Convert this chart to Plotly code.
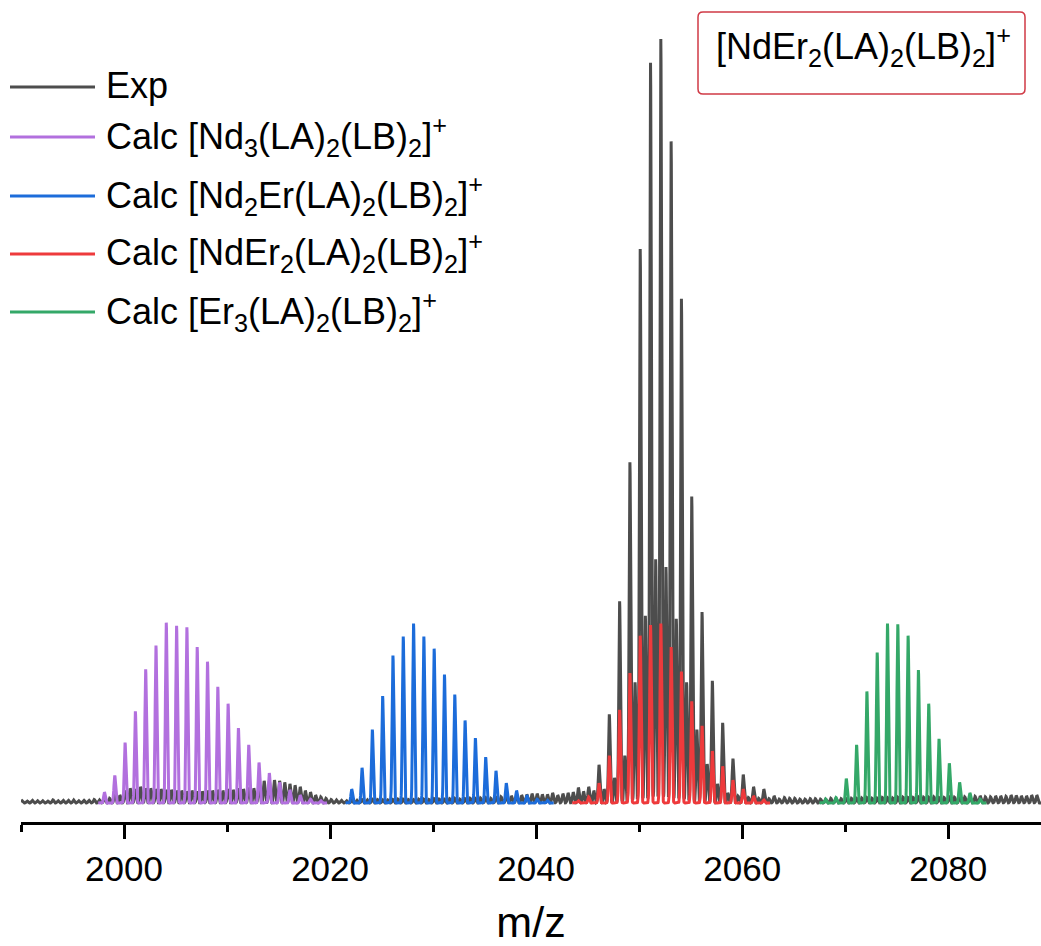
import numpy as np
import plotly.graph_objects as go

# ---- experimental spectrum: relative intensities (%) at nominal mass + 0.1 and + 0.6 ----
exp_nominal = list(range(1990, 2089))
exp_int_a = [
    0.3, 0.35, 0.3, 0.4, 0.35, 0.4, 0.35, 0.45, 0.7, 1.2,
    1.6, 1.8, 1.9, 1.8, 1.7, 1.6, 1.5, 1.5, 1.6, 1.7,
    1.8, 1.9, 2.0, 2.4, 2.9, 2.9, 2.5, 2.1, 1.4, 0.8,
    0.45, 0.35, 0.4, 0.45, 0.5, 0.4, 0.45, 0.5, 0.45, 0.5,
    0.55, 0.5, 0.6, 0.55, 0.6, 0.7, 0.75, 0.9, 1.0, 1.1,
    1.2, 1.1, 1.0, 1.3, 2.0, 2.1, 5.0, 11.6, 26.4, 44.6,
    72.5, 96.9, 100.0, 86.6, 66.0, 40.1, 25.0, 16.0, 10.5, 5.8,
    3.7, 2.1, 1.8, 0.9, 0.7, 0.6, 0.5, 0.55, 0.5, 0.6,
    0.55, 0.6, 0.7, 0.65, 0.7, 0.75, 0.7, 0.8, 0.75, 0.7,
    0.8, 0.75, 0.8, 0.9, 0.8, 0.9, 1.0, 0.9, 1.0,
]
exp_int_b = [
    0.25, 0.3, 0.25, 0.3, 0.35, 0.3, 0.35, 0.4, 0.6, 1.0,
    1.9, 2.1, 1.9, 1.8, 1.7, 1.6, 1.6, 1.5, 1.6, 1.6,
    1.7, 1.8, 1.9, 2.9, 3.0, 2.7, 2.3, 1.6, 1.0, 0.6,
    0.4, 0.3, 0.35, 0.4, 0.45, 0.4, 0.5, 0.45, 0.5, 0.45,
    0.5, 0.55, 0.5, 0.6, 0.65, 0.6, 0.8, 0.9, 1.0, 1.2,
    1.1, 1.3, 1.2, 1.4, 1.5, 1.6, 1.8, 3.3, 6.2, 15.8,
    24.5, 31.9, 30.9, 24.1, 15.8, 9.6, 5.1, 2.5, 1.3, 0.9,
    0.7, 0.6, 0.55, 0.5, 0.6, 0.5, 0.55, 0.5, 0.6, 0.55,
    0.6, 0.65, 0.6, 0.7, 0.65, 0.75, 0.7, 0.75, 0.8, 0.7,
    0.75, 0.8, 0.85, 0.8, 0.9, 0.85, 0.95, 0.9, 1.0,
]

# ---- calculated isotope patterns (relative intensity, %) ----
nd3_mz = [1998.1, 1999.1, 2000.1, 2001.1, 2002.1, 2003.1, 2004.1, 2005.1, 2006.1, 2007.1, 2008.1,
          2009.1, 2010.1, 2011.1, 2012.1, 2013.1, 2014.1, 2015.1, 2016.1, 2017.1, 2018.1, 2019.1]
nd3_int = [1.4, 3.6, 7.9, 12.0, 17.5, 20.6, 23.6, 23.2, 23.0, 20.4, 18.5,
           15.2, 13.0, 9.8, 7.6, 5.3, 3.9, 2.7, 1.7, 1.0, 0.5, 0.3]

nd2er_mz = [2022.1, 2023.1, 2024.1, 2025.1, 2026.1, 2027.1, 2028.1, 2029.1, 2030.1, 2031.1,
            2032.1, 2033.1, 2034.1, 2035.1, 2036.1, 2037.1, 2038.1, 2039.1, 2040.1, 2041.1]
nd2er_int = [1.8, 4.6, 9.6, 14.0, 19.3, 21.8, 23.5, 21.8, 20.2, 16.8,
             14.2, 10.8, 8.5, 6.0, 4.2, 2.6, 1.6, 1.0, 0.5, 0.35]

nder2_mz = [2044.1, 2045.1, 2046.1, 2047.1, 2048.1, 2049.1, 2050.1, 2051.1, 2052.1, 2053.1,
            2054.1, 2055.1, 2056.1, 2057.1, 2058.1, 2059.1, 2060.1, 2061.1, 2062.1]
nder2_int = [0.3, 0.8, 2.6, 6.2, 12.2, 17.0, 21.9, 23.3, 23.5, 20.4,
             17.2, 13.3, 10.1, 6.8, 4.8, 3.0, 1.8, 0.9, 0.4]

er3_mz = [2068.1, 2069.1, 2070.1, 2071.1, 2072.1, 2073.1, 2074.1, 2075.1, 2076.1, 2077.1,
          2078.1, 2079.1, 2080.1, 2081.1, 2082.1, 2083.1]
er3_int = [0.5, 0.7, 3.2, 7.6, 14.6, 19.7, 23.5, 23.4, 21.9, 17.4,
           13.0, 8.4, 5.2, 2.7, 1.3, 0.5]

COLORS = {
    "exp": "rgb(77,77,77)",
    "nd3": "rgb(178,112,222)",
    "nd2er": "rgb(28,108,218)",
    "nder2": "rgb(238,58,60)",
    "er3": "rgb(52,168,104)",
}
FONT = "Arial, 'Liberation Sans', sans-serif"
PEAK_SIGMA = 0.08  # Da, Gaussian line shape of each isotope peak


def profile(centres, heights, lo, hi, step=0.02):
    """Turn a stick spectrum into a continuous profile with Gaussian peaks."""
    x = np.arange(lo, hi + step / 2, step)
    c = np.asarray(centres, float)[:, None]
    h = np.asarray(heights, float)[:, None]
    y = (h * np.exp(-0.5 * ((x[None, :] - c) / PEAK_SIGMA) ** 2)).sum(axis=0)
    return x, y


exp_centres = [m + 0.1 for m in exp_nominal] + [m + 0.6 for m in exp_nominal]
exp_heights = exp_int_a + exp_int_b

fig = go.Figure()

x, y = profile(exp_centres, exp_heights, 1990.0, 2089.0)
fig.add_trace(go.Scatter(x=x, y=y, mode="lines", name="Exp",
                         line=dict(color=COLORS["exp"], width=3)))

for key, mz, inten in [("nd3", nd3_mz, nd3_int), ("nd2er", nd2er_mz, nd2er_int),
                       ("nder2", nder2_mz, nder2_int), ("er3", er3_mz, er3_int)]:
    x, y = profile(mz, inten, mz[0] - 0.6, mz[-1] + 0.6)
    fig.add_trace(go.Scatter(x=x, y=y, mode="lines", name=key,
                             line=dict(color=COLORS[key], width=3)))

# ---- page geometry (pixels) ----
W_PAGE, H_PAGE = 1041, 946
M_L, M_R, M_T, M_B = 21, 0, 20, 124
PW = W_PAGE - M_L - M_R
PH = H_PAGE - M_T - M_B


def px_x(px):
    return (px - M_L) / PW


def px_y(py):
    return 1 - (py - M_T) / PH


# ---- hand-drawn legend ----
legend_rows = [
    ("exp", "Exp", 87),
    ("nd3", "Calc [Nd<sub>3</sub>(LA)<sub>2</sub>(LB)<sub>2</sub>]<sup>+</sup>", 137),
    ("nd2er", "Calc [Nd<sub>2</sub>Er(LA)<sub>2</sub>(LB)<sub>2</sub>]<sup>+</sup>", 196),
    ("nder2", "Calc [NdEr<sub>2</sub>(LA)<sub>2</sub>(LB)<sub>2</sub>]<sup>+</sup>", 254),
    ("er3", "Calc [Er<sub>3</sub>(LA)<sub>2</sub>(LB)<sub>2</sub>]<sup>+</sup>", 312),
]
shapes = []
annotations = []
for key, label, row_y in legend_rows:
    shapes.append(dict(type="line", xref="paper", yref="paper",
                       x0=px_x(10), x1=px_x(95), y0=px_y(row_y), y1=px_y(row_y),
                       line=dict(color=COLORS[key], width=3)))
    annotations.append(dict(xref="paper", yref="paper", x=px_x(104), y=px_y(row_y - 1),
                            xanchor="left", yanchor="middle", showarrow=False,
                            text=label, font=dict(family=FONT, size=36, color="black")))

# ---- boxed species label (rounded rectangle) ----
bx0, bx1, by0, by1, rad = 698, 1025, 12, 94, 5
X = lambda v: px_x(v)
Y = lambda v: px_y(v)
box_path = (
    f"M {X(bx0 + rad)},{Y(by0)} L {X(bx1 - rad)},{Y(by0)} "
    f"Q {X(bx1)},{Y(by0)} {X(bx1)},{Y(by0 + rad)} "
    f"L {X(bx1)},{Y(by1 - rad)} Q {X(bx1)},{Y(by1)} {X(bx1 - rad)},{Y(by1)} "
    f"L {X(bx0 + rad)},{Y(by1)} Q {X(bx0)},{Y(by1)} {X(bx0)},{Y(by1 - rad)} "
    f"L {X(bx0)},{Y(by0 + rad)} Q {X(bx0)},{Y(by0)} {X(bx0 + rad)},{Y(by0)} Z"
)
shapes.append(dict(type="path", xref="paper", yref="paper", path=box_path,
                   line=dict(color="rgb(208,58,70)", width=1.5), fillcolor="white", layer="above"))
annotations.append(dict(xref="paper", yref="paper", x=px_x((bx0 + bx1) / 2 + 2), y=px_y(47),
                        xanchor="center", yanchor="middle", showarrow=False,
                        text="[NdEr<sub>2</sub>(LA)<sub>2</sub>(LB)<sub>2</sub>]<sup>+</sup>",
                        font=dict(family=FONT, size=36, color="black")))

fig.update_layout(
    width=W_PAGE, height=H_PAGE,
    margin=dict(l=M_L, r=M_R, t=M_T, b=M_B, pad=0),
    paper_bgcolor="white", plot_bgcolor="white",
    showlegend=False,
    shapes=shapes, annotations=annotations,
    font=dict(family=FONT, color="black"),
)
fig.update_xaxes(
    range=[1990, 2089], showgrid=False, zeroline=False,
    showline=True, linecolor="black", linewidth=3,
    ticks="outside", ticklen=14, tickwidth=3, tickcolor="black",
    tick0=2000, dtick=20,
    minor=dict(ticks="outside", ticklen=7, tickwidth=3, tickcolor="black", dtick=10, showgrid=False),
    tickfont=dict(family=FONT, size=35, color="black"),
    title=dict(text="m/z", font=dict(family=FONT, size=43, color="black"), standoff=24),
)
fig.update_yaxes(visible=False, range=[-2.49, 102.49], fixedrange=True)

fig.write_html("out.html")
